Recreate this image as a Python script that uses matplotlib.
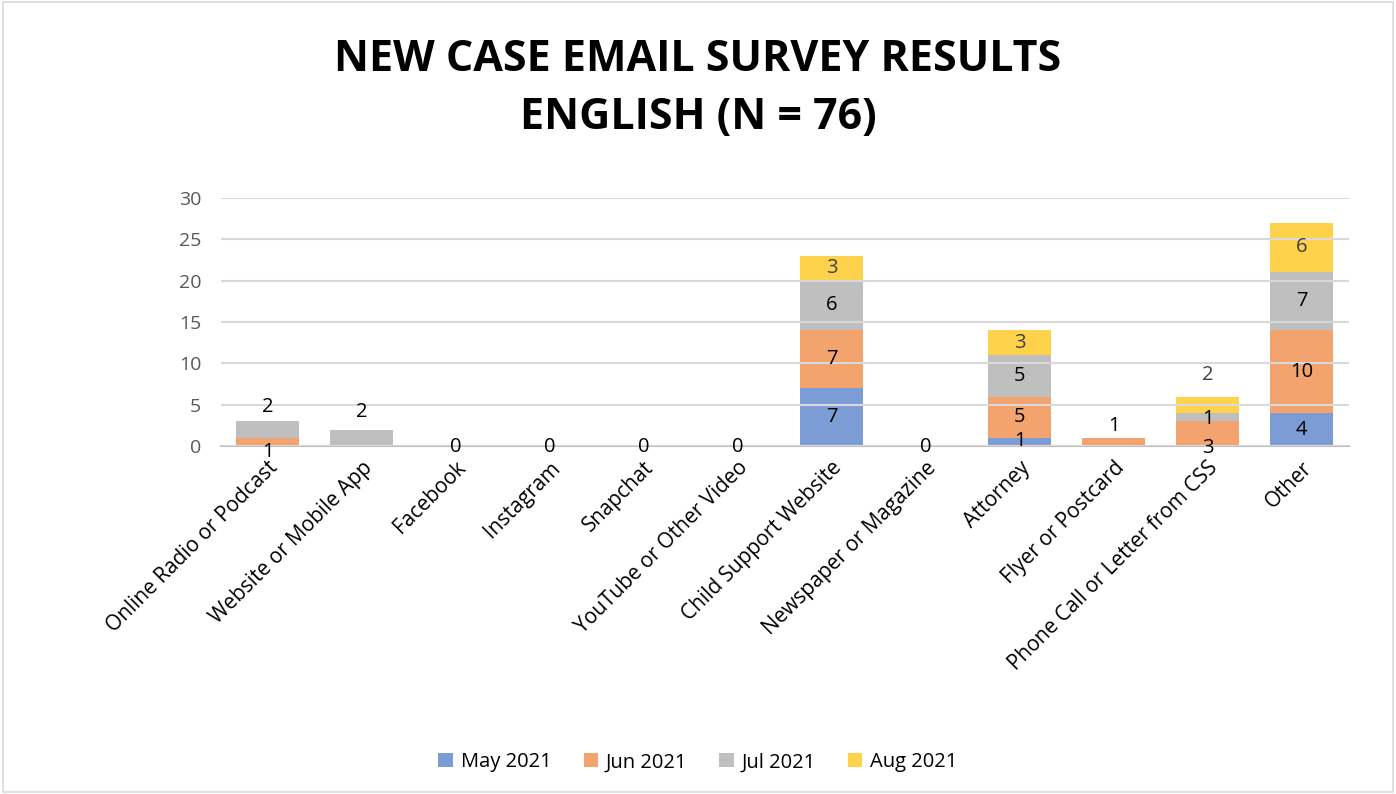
import numpy as np
import matplotlib.pyplot as plt
from matplotlib.patches import Rectangle

plt.rcParams['font.family'] = ['Open Sans', 'DejaVu Sans']

## data
categories = ["Online Radio or Podcast", "Website or Mobile App", "Facebook", "Instagram",
              "Snapchat", "YouTube or Other Video", "Child Support Website",
              "Newspaper or Magazine", "Attorney", "Flyer or Postcard",
              "Phone Call or Letter from CSS", "Other"]
series = ["May 2021", "Jun 2021", "Jul 2021", "Aug 2021"]
may = [0, 0, 0, 0, 0, 0, 7, 0, 1, 0, 0, 4]
jun = [1, 0, 0, 0, 0, 0, 7, 0, 5, 1, 3, 10]
jul = [2, 2, 0, 0, 0, 0, 6, 0, 5, 0, 1, 7]
aug = [0, 0, 0, 0, 0, 0, 3, 0, 3, 0, 2, 6]
yticks = [0, 5, 10, 15, 20, 25, 30]

colors = ['#4472C4', '#ED7D31', '#A5A5A5', '#FFC000']

# label placement tweaks for thin segments (Excel puts these outside)
label_shift = {(0, 1): -1.2, (0, 2): 2.7, (1, 2): 3.1, (8, 0): 0.1,
               (9, 1): 2.0, (10, 1): -1.7, (10, 2): -0.2, (10, 3): 3.6}

fig = plt.figure(figsize=(13.96, 7.94), dpi=100)
fig.patches.append(Rectangle((0.002, 0.003), 0.996, 0.994, transform=fig.transFigure,
                             fill=False, edgecolor='#D9D9D9', lw=1.2))
ax = fig.add_axes([0.158, 0.438, 0.808, 0.313])

data = np.array([may, jun, jul, aug], dtype=float)
x = np.arange(len(categories))
bottom = np.zeros(len(categories))
for i, s in enumerate(series):
    ax.bar(x, data[i], 0.67, bottom=bottom, color=colors[i], alpha=0.7,
           label=s, zorder=1, lw=0)
    for j in range(len(categories)):
        v = data[i, j]
        if v > 0:
            y = bottom[j] + v / 2 + label_shift.get((j, i), 0)
            ax.text(x[j], y, f"{int(v)}", ha='center', va='center', fontsize=14.5,
                    color='#404040' if i == 3 else 'black', zorder=3)
    bottom += data[i]

# zero labels for empty categories
for j in range(len(categories)):
    if bottom[j] == 0:
        ax.text(x[j], -0.1, "0", ha='center', va='center', fontsize=14.5, zorder=3)

ax.set_ylim(0, 30)
ax.set_xlim(-0.5, len(categories) - 0.5)
ax.set_yticks(yticks)
ax.yaxis.grid(True, color='#D9D9D9', lw=1.5, zorder=2)
ax.set_axisbelow(False)
for sp in ['top', 'right', 'left']:
    ax.spines[sp].set_visible(False)
ax.spines['bottom'].set_color('#BFBFBF')
ax.spines['bottom'].set_linewidth(1.5)
ax.spines['bottom'].set_zorder(2)
ax.tick_params(axis='y', length=0, labelsize=14, labelcolor='#595959', pad=14)
ax.tick_params(axis='x', length=0, labelsize=15, pad=8)
ax.set_xticks(x)
ax.set_xticklabels(categories, rotation=45, ha='right', rotation_mode='anchor')
for lbl in ax.get_xticklabels():
    lbl.set_x(lbl.get_position()[0] + 0.12)

fig.text(0.5, 0.925, "NEW CASE EMAIL SURVEY RESULTS", ha='center', va='center',
         fontsize=31, fontweight='bold')
fig.text(0.5, 0.852, "ENGLISH (N = 76)", ha='center', va='center',
         fontsize=31, fontweight='bold')

fig.legend(loc='center', bbox_to_anchor=(0.5, 0.04), ncol=4, frameon=False,
           fontsize=14.5, handlelength=0.7, handleheight=0.7, handletextpad=0.4,
           columnspacing=1.6)

fig.savefig('out.png', dpi=100)
